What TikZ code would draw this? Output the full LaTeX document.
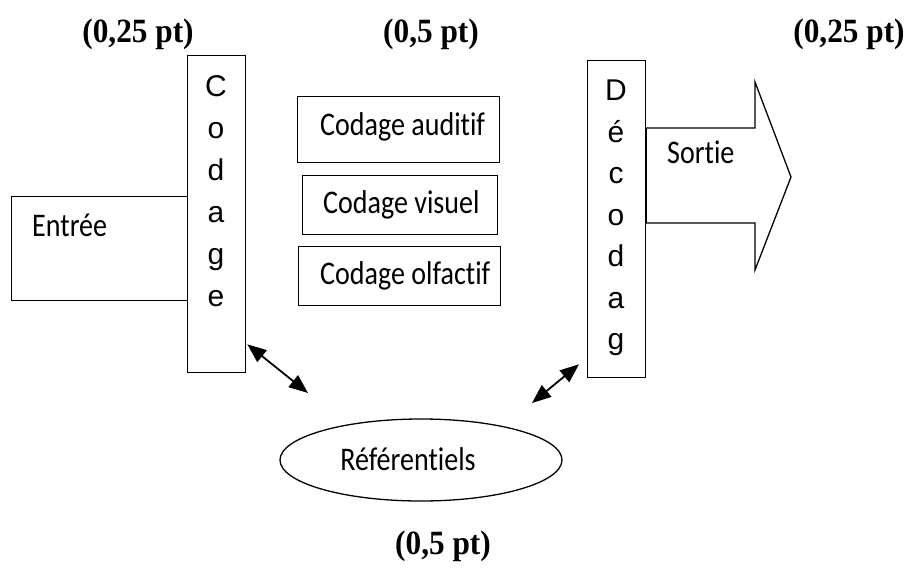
\documentclass[tikz,border=0pt]{standalone}
\usepackage{fontspec}
\setmainfont{Liberation Serif}
\newfontfamily\calfont[Ligatures=NoCommon]{Carlito}
\newfontfamily\arifont{Liberation Sans}
\usetikzlibrary{arrows.meta,shapes.geometric,calc}
\newcommand{\lb}[1]{\scalebox{0.85}[1]{#1}}
\newcommand{\pt}[1]{\scalebox{0.92}[1]{#1}}
\begin{document}
\begin{tikzpicture}[x=1pt,y=-1pt,
  box/.style={draw,line width=1.3pt,rectangle,inner sep=0pt,anchor=north west},
  lbl/.style={font=\calfont\fontsize{33}{36}\selectfont,inner sep=0pt},
  letter/.style={font=\arifont\fontsize{30}{32}\selectfont,inner sep=0pt,anchor=base},
  pts/.style={font=\bfseries\fontsize{34}{36}\selectfont,inner sep=0pt},
  dbl/.style={{Triangle[length=19pt,width=15pt]}-{Triangle[length=19pt,width=15pt]},line width=1.8pt}]
\useasboundingbox (0,0) rectangle (910,570);
% titles
\node[pts] (t1) at (138,34) {\pt{(0,25 pt)}};
\node[pts] (t2) at (431,34) {\pt{(0,5 pt)}};
\node[pts] (t3) at (849,34) {\pt{(0,25 pt)}};
\node[pts] (t4) at (443,546) {\pt{(0,5 pt)}};
% Entree
\node[box,minimum width=176pt,minimum height=104pt] (entree) at (11,196) {};
\node[lbl,anchor=base west] (entreeT) at (32,236) {\lb{Entrée}};
% Codage column
\node[box,minimum width=58pt,minimum height=317pt] (codage) at (187,55) {};
\foreach \l [count=\i from 0] in {C,o,d,a,g,e}
  \node[letter] (cl\i) at (216,96.5+41.9*\i) {\l};
% middle boxes
\node[box,minimum width=202pt,minimum height=66pt] (aud) at (297,96) {};
\node[lbl,anchor=west] (audT) at (320,127) {\lb{Codage auditif}};
\node[box,minimum width=195pt,minimum height=59pt] (vis) at (302,175) {};
\node[lbl,anchor=west] (visT) at (323,205) {\lb{Codage visuel}};
\node[box,minimum width=202pt,minimum height=59pt] (olf) at (298,246) {};
\node[lbl,anchor=west] (olfT) at (320,276) {\lb{Codage olfactif}};
% Sortie arrow
\draw[line width=1.3pt] (645,128) -- (755,128) -- (755,82) -- (791,177) -- (755,270) -- (755,223) -- (645,223) -- cycle;
\node[lbl,anchor=base west] (sortie) at (667,163) {\lb{Sortie}};
% Decodage column
\node[box,minimum width=58pt,minimum height=317pt,fill=white] (decodage) at (587,60) {};
\draw[line width=2.2pt] (decodage.east |- 0,128) -- (decodage.east |- 0,223);
\foreach \l [count=\i from 0] in {D,é,c,o,d,a,g}
  \node[letter] (dl\i) at (616,100.5+41.5*\i) {\l};
% Referentiels
\node[draw,ellipse,line width=1.3pt,minimum width=282pt,minimum height=82pt,inner sep=0pt] (ref) at (421,460) {};
\node[lbl] (refT) at (408,459) {\lb{Référentiels}};
% connectors
\coordinate (e1) at (308,393);
\coordinate (e2) at (532,403);
\draw[dbl] ([shift={(1,-29)}]codage.south east) -- (e1);
\draw[dbl] ([shift={(-8,-14)}]decodage.south west) -- (e2);
\end{tikzpicture}
\end{document}
